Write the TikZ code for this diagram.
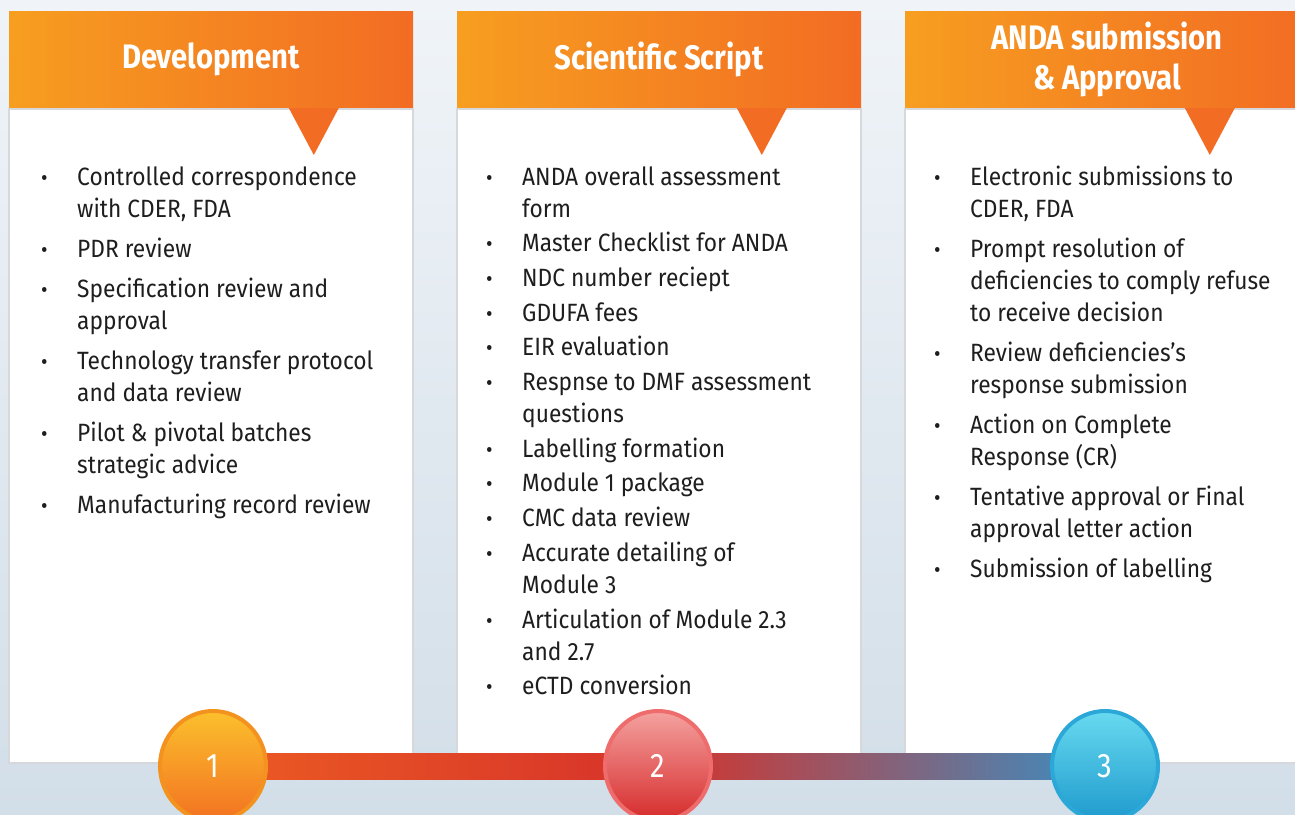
\documentclass[tikz,border=0pt]{standalone}
\usepackage{fontspec}
\setmainfont{Fira Sans}[FakeStretch=0.91]
\newfontfamily\headfont{Fira Sans}[FakeStretch=0.86]
\usetikzlibrary{positioning, shapes.geometric, calc}

\definecolor{bgtop}{RGB}{240,244,248}
\definecolor{bgbot}{RGB}{210,222,232}
\definecolor{hdlight}{RGB}{247,158,32}
\definecolor{hdmid}{RGB}{245,128,33}
\definecolor{hddark}{RGB}{242,108,35}
\definecolor{cardline}{RGB}{214,216,220}
\definecolor{txtgray}{RGB}{30,30,30}
\definecolor{barorange}{RGB}{236,91,35}
\definecolor{barred}{RGB}{214,50,42}
\definecolor{barblue}{RGB}{58,142,195}
\definecolor{ringone}{RGB}{243,146,30}
\definecolor{topone}{RGB}{251,192,45}
\definecolor{botone}{RGB}{243,114,33}
\definecolor{ringtwo}{RGB}{238,108,108}
\definecolor{toptwo}{RGB}{244,162,160}
\definecolor{bottwo}{RGB}{214,43,43}
\definecolor{ringthree}{RGB}{43,168,216}
\definecolor{topthree}{RGB}{104,218,240}
\definecolor{botthree}{RGB}{30,154,205}

\newcommand{\blt}{{\fontsize{22}{32}\selectfont\textbullet}}

\begin{document}
\begin{tikzpicture}[x=1pt, y=-1pt,
  card/.style={draw=cardline, line width=2pt, fill=white, minimum width=404pt, minimum height=654pt, inner sep=0pt},
  head/.style={left color=hdlight, middle color=hdmid, right color=hddark, text=white,
    font=\headfont\bfseries\fontsize{34}{40}\selectfont, align=center, minimum width=404pt, minimum height=96pt, inner sep=0pt},
  pointer/.style={fill=hddark},
  list/.style={anchor=base west, inner sep=0pt, text=txtgray, font=\fontsize{25}{32}\selectfont},
  num/.style={ellipse, minimum width=106pt, minimum height=110pt, line width=4pt, text=white,
    font=\headfont\fontsize{34}{34}\selectfont}]
  \useasboundingbox (0,0) rectangle (1295,814);
  \clip (0,0) rectangle (1295,814);
  \shade[top color=bgtop, bottom color=bgbot] (0,0) rectangle (1295,814);

  \node[card] (b1) at (211,436) {};
  \node[card] (b2) at (659,436) {};
  \node[card] (b3) at (1107,436) {};
  \node[head, above=0pt of b1] (h1) {Development};
  \node[head, above=0pt of b2] (h2) {Scientific Script};
  \node[head, above=0pt of b3] (h3) {ANDA submission\\\& Approval};
  \foreach \h in {h1,h2,h3}
    \fill[pointer] ($(\h.south west)+(280,0)$) -- ++(50,0) -- ++(-25,47) -- cycle;

  \node[list] (list1) at (41,185) {\begin{tabular}[t]{@{}p{36pt}@{}l@{}}
    \blt & Controlled correspondence\\
         & with CDER, FDA\\[8pt]
    \blt & PDR review\\[8pt]
    \blt & Specification review and\\
         & approval\\[8pt]
    \blt & Technology transfer protocol\\
         & and data review\\[8pt]
    \blt & Pilot \& pivotal batches\\
         & strategic advice\\[8pt]
    \blt & Manufacturing record review
  \end{tabular}};
  \node[list] (list2) at (486,185) {\begin{tabular}[t]{@{}p{36pt}@{}l@{}}
    \blt & ANDA overall assessment\\
         & form\\[2.7pt]
    \blt & Master Checklist for ANDA\\[2.7pt]
    \blt & NDC number reciept\\[2.7pt]
    \blt & GDUFA fees\\[2.7pt]
    \blt & EIR evaluation\\[2.7pt]
    \blt & Respnse to DMF assessment\\
         & questions\\[2.7pt]
    \blt & Labelling formation\\[2.7pt]
    \blt & Module 1 package\\[2.7pt]
    \blt & CMC data review\\[2.7pt]
    \blt & Accurate detailing of\\
         & Module 3\\[2.7pt]
    \blt & Articulation of Module 2.3\\
         & and 2.7\\[2.7pt]
    \blt & eCTD conversion
  \end{tabular}};
  \node[list] (list3) at (934,185) {\begin{tabular}[t]{@{}p{36pt}@{}l@{}}
    \blt & Electronic submissions to\\
         & CDER, FDA\\[8pt]
    \blt & Prompt resolution of\\
         & deficiencies to comply refuse\\
         & to receive decision\\[8pt]
    \blt & Review deficiencies’s\\
         & response submission\\[8pt]
    \blt & Action on Complete\\
         & Response (CR)\\[8pt]
    \blt & Tentative approval or Final\\
         & approval letter action\\[8pt]
    \blt & Submission of labelling
  \end{tabular}};

  \coordinate (p1) at (213,766);
  \coordinate (p2) at (658,766);
  \coordinate (p3) at (1105,766);
  \shade[left color=barorange, right color=barred] ($(p1)+(0,-13)$) rectangle ($(p2)+(0,13)$);
  \shade[left color=barred, right color=barblue] ($(p2)+(0,-13)$) rectangle ($(p3)+(0,13)$);
  \node[num, draw=ringone, top color=topone, bottom color=botone] (c1) at (p1) {1};
  \node[num, draw=ringtwo, top color=toptwo, bottom color=bottwo] (c2) at (p2) {2};
  \node[num, draw=ringthree, top color=topthree, bottom color=botthree] (c3) at (p3) {3};
\end{tikzpicture}
\end{document}
